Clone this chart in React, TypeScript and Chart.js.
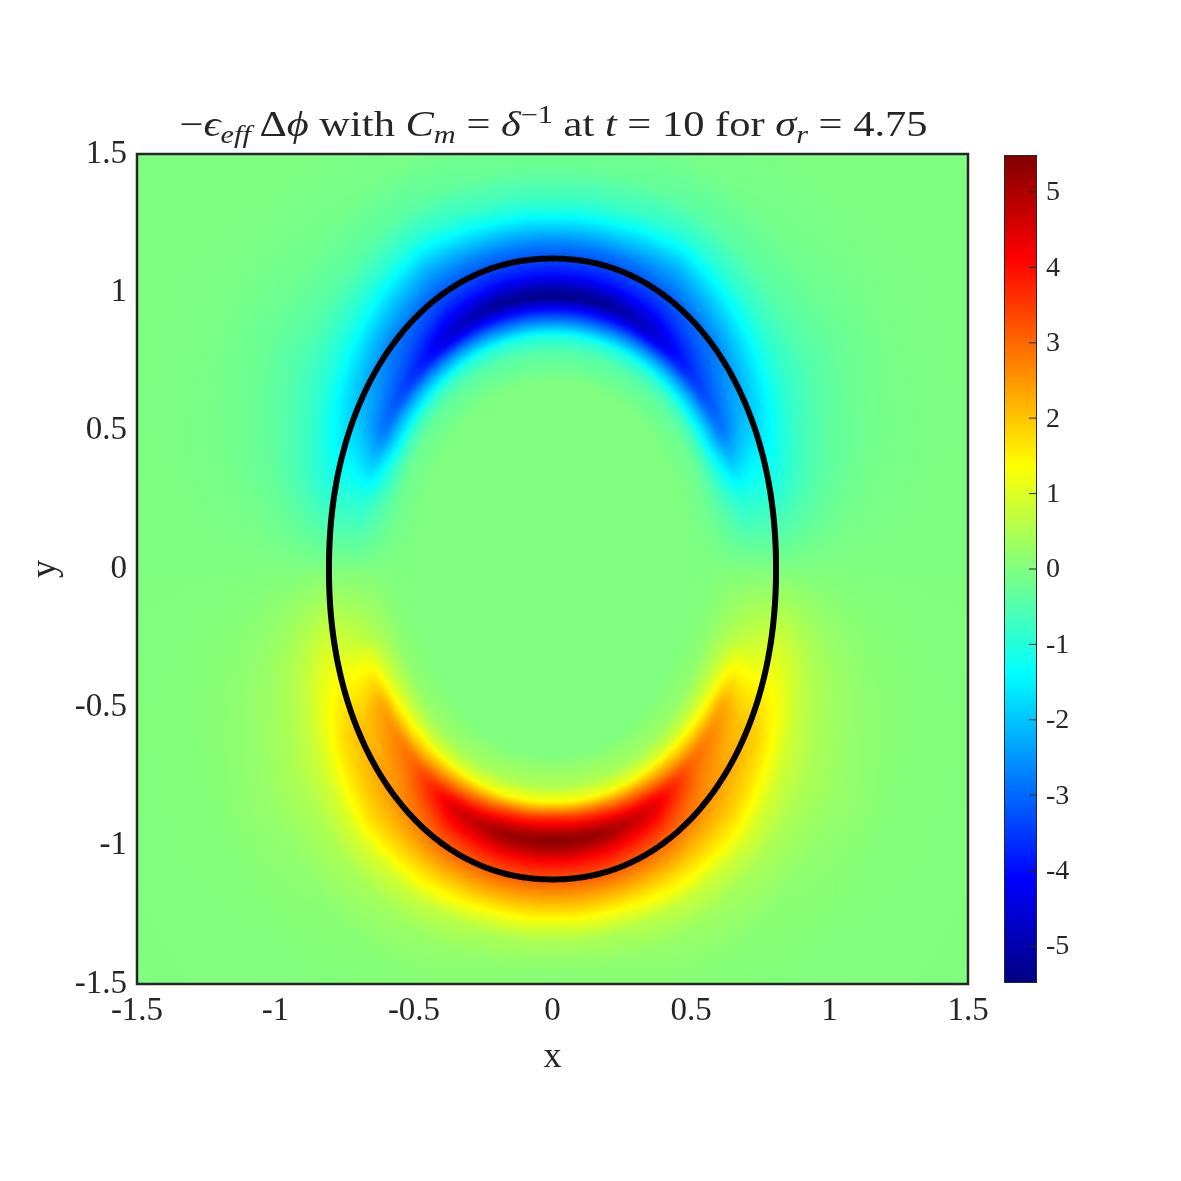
import React, { useEffect, useRef } from 'react';
import { Chart, registerables } from 'chart.js';

Chart.register(...registerables);

// ---- axes / ticks ----
const X_TICKS = [-1.5, -1, -0.5, 0, 0.5, 1, 1.5];
const X_TICK_LABELS = ['-1.5', '-1', '-0.5', '0', '0.5', '1', '1.5'];
const Y_TICKS = [-1.5, -1, -0.5, 0, 0.5, 1, 1.5];
const Y_TICK_LABELS = ['-1.5', '-1', '-0.5', '0', '0.5', '1', '1.5'];
const CB_TICKS = [-5, -4, -3, -2, -1, 0, 1, 2, 3, 4, 5];
const CB_TICK_LABELS = ['-5', '-4', '-3', '-2', '-1', '0', '1', '2', '3', '4', '5'];
const CB_MIN = -5.49;
const CB_MAX = 5.49;

// ---- interface curve ----
const INTERFACE_A = 0.807; // half width in x
const INTERFACE_B = 1.122; // half height in y
const INTERFACE_EXP = 2.1;

// ---- field table: value of -eps_eff*Laplace(phi), sampled in (rho, angle) around the interface ----
// angle measured from the top (0 deg) to the bottom (180 deg), mirror-symmetric in x
const PHI_DEG = [0, 15, 30, 45, 60, 75, 90, 105, 120, 135, 150, 165, 180];
const RHO = [0.6, 0.7, 0.75, 0.8, 0.85, 0.875, 0.9, 0.95, 1.0, 1.05, 1.1, 1.15, 1.2, 1.3, 1.45, 1.7, 2.2];
const F_R060 = [0, 0, 0, 0, 0, 0, 0, 0, 0, 0, 0, 0, 0];
const F_R070 = [-0.45, -0.45, -0.4, -0.3, -0.2, -0.15, 0, 0.1, 0.2, 0.3, 0.4, 0.5, 0.5];
const F_R075 = [-1.1, -1.1, -1.0, -0.85, -0.7, -0.35, 0, 0.25, 0.6, 0.8, 1.1, 1.3, 1.4];
const F_R080 = [-2.8, -2.8, -2.5, -2.1, -1.7, -0.6, 0, 0.45, 1.2, 1.8, 2.6, 3.3, 3.6];
const F_R085 = [-4.5, -4.5, -4.4, -3.5, -2.7, -0.9, 0, 0.6, 2.2, 2.9, 4.1, 4.8, 5.0];
const F_R0875 = [-5.45, -5.3, -4.7, -3.6, -2.8, -1.0, 0, 0.7, 2.35, 3.0, 4.5, 5.2, 5.45];
const F_R090 = [-5.1, -5.0, -4.4, -3.4, -2.6, -1.0, 0, 0.75, 2.25, 2.9, 4.3, 4.9, 5.1];
const F_R095 = [-4.0, -3.9, -3.7, -3.0, -2.2, -1.0, 0, 0.85, 2.0, 2.6, 3.6, 3.9, 4.0];
const F_R100 = [-3.3, -3.3, -3.2, -2.8, -2.0, -1.05, 0, 1.0, 2.0, 2.5, 3.0, 3.2, 3.2];
const F_R105 = [-2.7, -2.7, -2.7, -2.3, -1.7, -0.95, 0, 0.95, 1.8, 2.2, 2.5, 2.5, 2.5];
const F_R110 = [-1.9, -1.95, -2.2, -1.8, -1.35, -0.8, 0, 0.8, 1.5, 1.9, 1.9, 1.8, 1.8];
const F_R115 = [-1.1, -1.2, -1.6, -1.3, -1.0, -0.65, 0, 0.65, 1.1, 1.5, 1.4, 1.1, 1.0];
const F_R120 = [-0.65, -0.7, -1.0, -0.9, -0.8, -0.5, 0, 0.5, 0.8, 1.0, 0.8, 0.5, 0.45];
const F_R130 = [-0.2, -0.25, -0.4, -0.4, -0.5, -0.3, 0, 0.3, 0.5, 0.45, 0.3, 0.15, 0.1];
const F_R145 = [-0.05, -0.05, -0.1, -0.15, -0.25, -0.15, 0, 0.15, 0.25, 0.15, 0.08, 0.04, 0.03];
const F_R170 = [0, 0, 0, -0.03, -0.05, -0.05, 0, 0.05, 0.05, 0.03, 0, 0, 0];
const F_R220 = [0, 0, 0, 0, 0, 0, 0, 0, 0, 0, 0, 0, 0];

const FIELD = [
  F_R060, F_R070, F_R075, F_R080, F_R085, F_R0875, F_R090, F_R095, F_R100,
  F_R105, F_R110, F_R115, F_R120, F_R130, F_R145, F_R170, F_R220,
];

const TEXT_COLOR = '#262626';
const SERIF = '"Liberation Serif", "DejaVu Serif", serif';
const TITLE_WIDTH = 748;

function jet(t: number): [number, number, number] {
  const c = (v: number) => Math.max(0, Math.min(1, v));
  t = Math.max(0, Math.min(1, t));
  return [
    Math.round(255 * c(1.5 - Math.abs(4 * t - 3))),
    Math.round(255 * c(1.5 - Math.abs(4 * t - 2))),
    Math.round(255 * c(1.5 - Math.abs(4 * t - 1))),
  ];
}

function fieldAt(xv: number, yv: number): number {
  const ax = Math.abs(xv) / INTERFACE_A;
  const ay = yv / INTERFACE_B;
  const rho = Math.pow(Math.pow(ax, INTERFACE_EXP) + Math.pow(Math.abs(ay), INTERFACE_EXP), 1 / INTERFACE_EXP);
  const phi = (Math.atan2(ax, ay) * 180) / Math.PI;
  const r = Math.max(RHO[0], Math.min(RHO[RHO.length - 1], rho));
  let i = 0;
  while (i < RHO.length - 2 && r > RHO[i + 1]) i++;
  const tr = (r - RHO[i]) / (RHO[i + 1] - RHO[i]);
  const p = Math.max(0, Math.min(180, phi));
  let j = 0;
  while (j < PHI_DEG.length - 2 && p > PHI_DEG[j + 1]) j++;
  const tp = (p - PHI_DEG[j]) / (PHI_DEG[j + 1] - PHI_DEG[j]);
  const v00 = FIELD[i][j], v01 = FIELD[i][j + 1], v10 = FIELD[i + 1][j], v11 = FIELD[i + 1][j + 1];
  return (v00 * (1 - tp) + v01 * tp) * (1 - tr) + (v10 * (1 - tp) + v11 * tp) * tr;
}

function interfacePoints() {
  const pts: { x: number; y: number }[] = [];
  const e = 2 / INTERFACE_EXP;
  for (let k = 0; k <= 360; k++) {
    const th = (k * Math.PI) / 180;
    const s = Math.sin(th), c = Math.cos(th);
    pts.push({
      x: INTERFACE_A * Math.sign(s) * Math.pow(Math.abs(s), e),
      y: INTERFACE_B * Math.sign(c) * Math.pow(Math.abs(c), e),
    });
  }
  return pts;
}

const heatmapPlugin = {
  id: 'heatmap',
  beforeDatasetsDraw(chart: any) {
    const { ctx, chartArea: ca, scales } = chart;
    const xs = scales.x, ys = scales.y;
    const pad = 8;
    const L = Math.floor(ca.left) - pad;
    const T = Math.floor(ca.top) - pad;
    const W = Math.ceil(ca.right - ca.left) + 2 * pad + 1;
    const H = Math.ceil(ca.bottom - ca.top) + 2 * pad + 1;
    const off = document.createElement('canvas');
    off.width = W;
    off.height = H;
    const octx = off.getContext('2d')!;
    const img = octx.createImageData(W, H);
    const xv: number[] = [];
    for (let i = 0; i < W; i++) xv.push(xs.getValueForPixel(L + i + 0.5));
    for (let jj = 0; jj < H; jj++) {
      const yv = ys.getValueForPixel(T + jj + 0.5);
      for (let i = 0; i < W; i++) {
        const v = fieldAt(xv[i], yv);
        const [r, g, b] = jet((v - CB_MIN) / (CB_MAX - CB_MIN));
        const o = (jj * W + i) * 4;
        img.data[o] = r;
        img.data[o + 1] = g;
        img.data[o + 2] = b;
        img.data[o + 3] = 255;
      }
    }
    octx.putImageData(img, 0, 0);
    ctx.save();
    ctx.beginPath();
    ctx.rect(ca.left, ca.top, ca.right - ca.left, ca.bottom - ca.top);
    ctx.clip();
    ctx.filter = 'blur(1.5px)';
    ctx.drawImage(off, L, T);
    ctx.filter = 'none';
    ctx.restore();
  },
  afterDraw(chart: any) {
    const { ctx, chartArea: ca } = chart;
    ctx.save();
    // axes box
    ctx.strokeStyle = TEXT_COLOR;
    ctx.lineWidth = 2.5;
    ctx.strokeRect(ca.left, ca.top, ca.right - ca.left, ca.bottom - ca.top);

    // colorbar
    const cbL = 1004, cbR = 1037;
    const cbT = ca.top + 1, cbB = ca.bottom - 1;
    for (let yy = Math.floor(cbT); yy < cbB; yy++) {
      const t = (cbB - (yy + 0.5)) / (cbB - cbT);
      const [r, g, b] = jet(t);
      ctx.fillStyle = `rgb(${r},${g},${b})`;
      ctx.fillRect(cbL, yy, cbR - cbL, 1);
    }
    ctx.strokeStyle = TEXT_COLOR;
    ctx.lineWidth = 1;
    ctx.strokeRect(cbL + 0.5, cbT + 0.5, cbR - cbL - 1, cbB - cbT - 1);
    ctx.fillStyle = TEXT_COLOR;
    ctx.font = `28px ${SERIF}`;
    ctx.textAlign = 'left';
    ctx.textBaseline = 'middle';
    CB_TICKS.forEach((v, k) => {
      const y = cbB - ((v - CB_MIN) / (CB_MAX - CB_MIN)) * (cbB - cbT);
      ctx.beginPath();
      ctx.moveTo(cbR - 8, y);
      ctx.lineTo(cbR, y);
      ctx.stroke();
      ctx.fillText(CB_TICK_LABELS[k], 1046, y + 1);
    });

    // title with sub/superscripts
    type Seg = { t: string; it?: boolean; sub?: boolean; sup?: boolean };
    const segs: Seg[] = [
      { t: '\u2212' },
      { t: '\u03F5', it: true },
      { t: 'eff', it: true, sub: true },
      { t: '\u2009\u0394' },
      { t: '\u03D5', it: true },
      { t: ' with ' },
      { t: 'C', it: true },
      { t: 'm', it: true, sub: true },
      { t: ' = ' },
      { t: '\u03B4', it: true },
      { t: '\u22121', sup: true },
      { t: ' at ' },
      { t: 't', it: true },
      { t: ' = 10 for ' },
      { t: '\u03C3', it: true },
      { t: 'r', it: true, sub: true },
      { t: ' = 4.75' },
    ];
    const fs = 35;
    const fontFor = (s: Seg) => `${s.it ? 'italic ' : ''}${s.sub || s.sup ? Math.round(fs * 0.7) : fs}px ${SERIF}`;
    let total = 0;
    segs.forEach((s) => {
      ctx.font = fontFor(s);
      total += ctx.measureText(s.t).width;
    });
    const sx = TITLE_WIDTH / total;
    const base = 136;
    ctx.translate((ca.left + ca.right) / 2 - TITLE_WIDTH / 2 + 1, 0);
    ctx.scale(sx, 1);
    let x = 0;
    ctx.textAlign = 'left';
    ctx.textBaseline = 'alphabetic';
    segs.forEach((s) => {
      ctx.font = fontFor(s);
      const dy = s.sub ? 7 : s.sup ? -13 : 0;
      ctx.fillText(s.t, x, base + dy);
      x += ctx.measureText(s.t).width;
    });
    ctx.restore();
  },
};

export default function App() {
  const ref = useRef<HTMLCanvasElement | null>(null);
  useEffect(() => {
    if (!ref.current) return;
    const chart = new Chart(ref.current, {
      type: 'scatter',
      data: {
        datasets: [
          {
            label: 'interface',
            data: interfacePoints(),
            showLine: true,
            borderColor: '#000000',
            borderWidth: 6,
            pointRadius: 0,
            fill: false,
            tension: 0.2,
            borderJoinStyle: 'round',
          } as any,
        ],
      },
      options: {
        animation: false,
        responsive: false,
        events: [],
        layout: { padding: { top: 154, right: 213, bottom: 0, left: 0 } },
        plugins: { legend: { display: false }, title: { display: false }, tooltip: { enabled: false } },
        scales: {
          x: {
            type: 'linear',
            min: -1.5,
            max: 1.5,
            afterFit: (s: any) => { s.height = 197; },
            afterBuildTicks: (s: any) => { s.ticks = X_TICKS.map((v) => ({ value: v })); },
            grid: { display: false, drawTicks: false },
            border: { display: false },
            ticks: {
              padding: 8,
              color: TEXT_COLOR,
              font: { family: SERIF, size: 33 },
              maxRotation: 0,
              callback: (v: any) => X_TICK_LABELS[X_TICKS.indexOf(Number(v))] ?? '',
            },
            title: {
              display: true,
              text: 'x',
              color: TEXT_COLOR,
              font: { family: SERIF, size: 36 },
              padding: { top: 0, bottom: 102 },
            },
          },
          y: {
            type: 'linear',
            min: -1.5,
            max: 1.5,
            afterFit: (s: any) => { s.width = 137; },
            afterBuildTicks: (s: any) => { s.ticks = Y_TICKS.map((v) => ({ value: v })); },
            grid: { display: false, drawTicks: false },
            border: { display: false },
            ticks: {
              padding: 10,
              color: TEXT_COLOR,
              font: { family: SERIF, size: 33 },
              callback: (v: any) => Y_TICK_LABELS[Y_TICKS.indexOf(Number(v))] ?? '',
            },
            title: {
              display: true,
              text: 'y',
              color: TEXT_COLOR,
              font: { family: SERIF, size: 36 },
              padding: { top: 24, bottom: 0 },
            },
          },
        },
      },
      plugins: [heatmapPlugin],
    });
    return () => chart.destroy();
  }, []);
  return (
    <div style={{ position: 'absolute', left: 0, top: 0, width: 1181, height: 1181, background: '#ffffff' }}>
      <canvas ref={ref} width={1181} height={1181} style={{ display: 'block' }} />
    </div>
  );
}
